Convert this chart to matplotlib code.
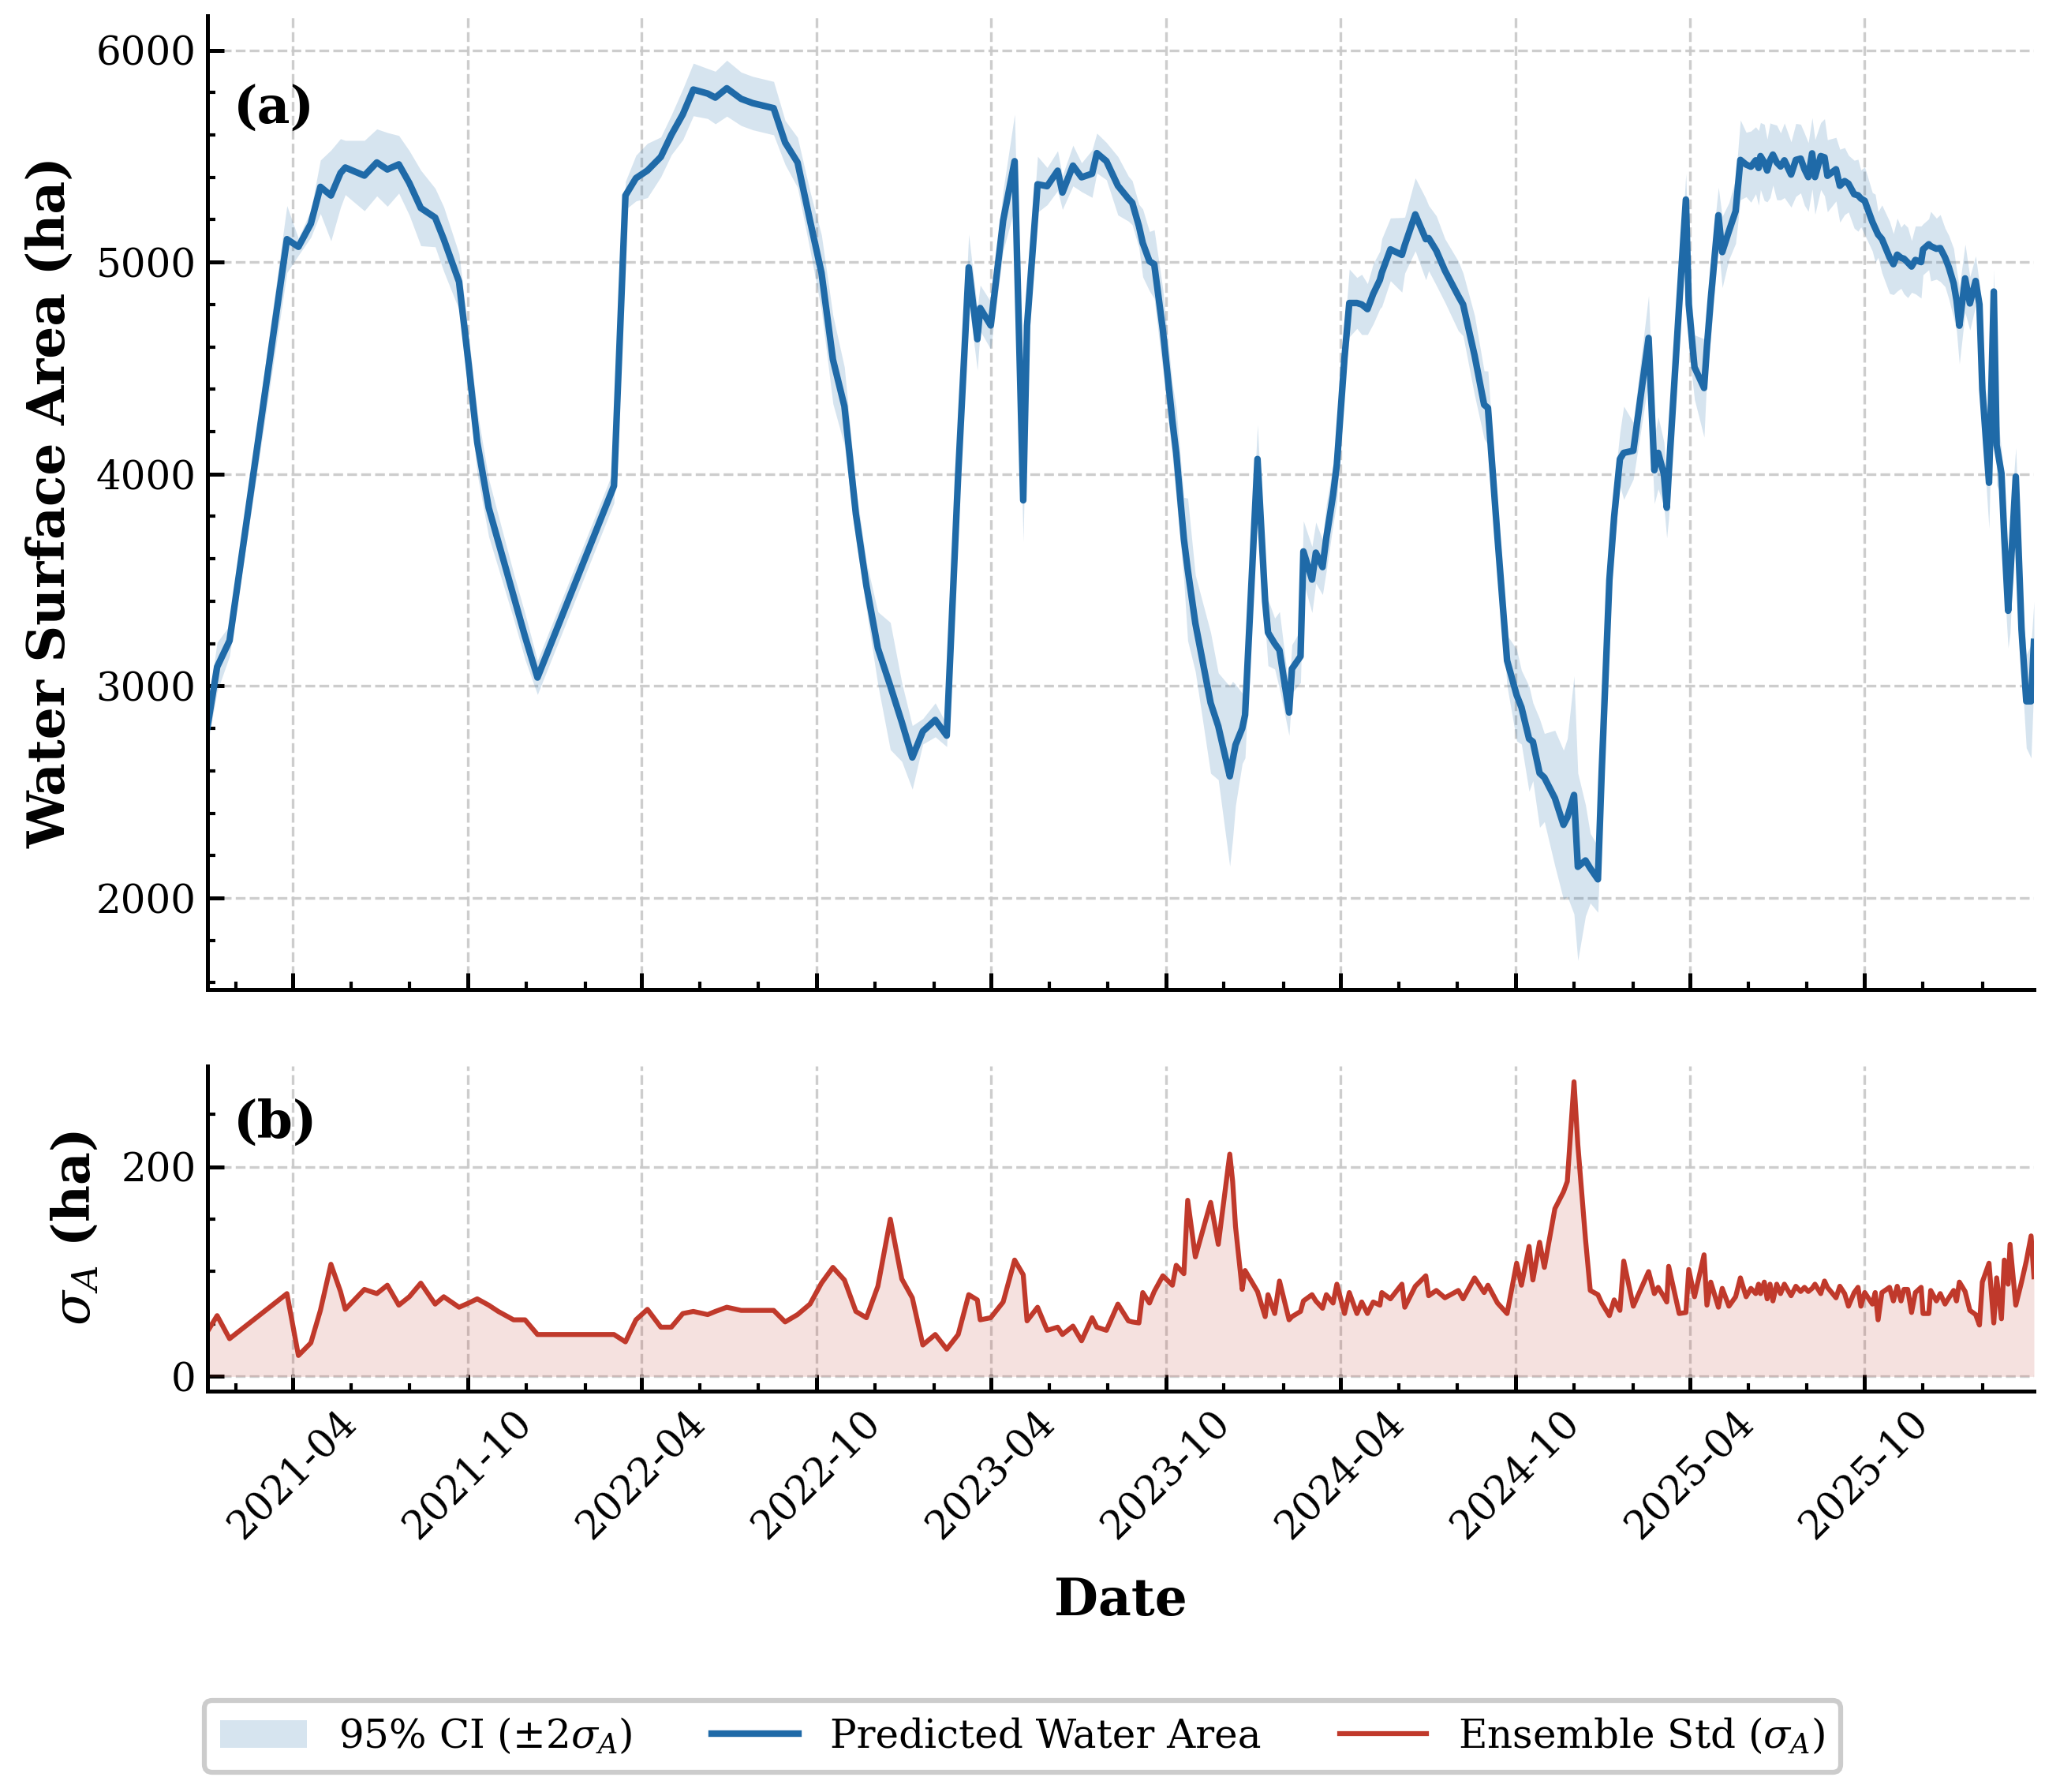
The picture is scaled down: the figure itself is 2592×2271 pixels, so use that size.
import numpy as np
import matplotlib
matplotlib.use('Agg')
import matplotlib.pyplot as plt
import matplotlib.dates as mdates
from matplotlib.ticker import AutoMinorLocator, MultipleLocator
from matplotlib.patches import Patch
from matplotlib.lines import Line2D

plt.rcParams['font.family'] = ['DejaVu Serif']
plt.rcParams['mathtext.fontset'] = 'dejavuserif'

# ---------------- data ----------------
dates = [
    # 2021
    '2021-01-02', '2021-01-12', '2021-01-25', '2021-03-26', '2021-04-07', '2021-04-20', '2021-04-30',
    '2021-05-11', '2021-05-21', '2021-05-26', '2021-06-15', '2021-06-28', '2021-07-09', '2021-07-21',
    '2021-08-01', '2021-08-13', '2021-08-28', '2021-09-06', '2021-09-22', '2021-10-02', '2021-10-11',
    '2021-10-23', '2021-11-02', '2021-11-18', '2021-11-30', '2021-12-13',
    # 2022
    '2022-03-03', '2022-03-15', '2022-03-26', '2022-04-07', '2022-04-21', '2022-05-02', '2022-05-14',
    '2022-05-25', '2022-06-09', '2022-06-17', '2022-06-29', '2022-07-14', '2022-07-26', '2022-08-17',
    '2022-08-29', '2022-09-11', '2022-09-24', '2022-10-06', '2022-10-18', '2022-10-30', '2022-11-11',
    '2022-11-22', '2022-12-04', '2022-12-17', '2022-12-29',
    # 2023
    '2023-01-09', '2023-01-20', '2023-02-02', '2023-02-14', '2023-02-26', '2023-03-09', '2023-03-18',
    '2023-03-21', '2023-04-01', '2023-04-14', '2023-04-26', '2023-05-05', '2023-05-09', '2023-05-20',
    '2023-05-30', '2023-06-10', '2023-06-15', '2023-06-26', '2023-07-05', '2023-07-16', '2023-07-21',
    '2023-07-31', '2023-08-12', '2023-08-23', '2023-08-27', '2023-09-03', '2023-09-07', '2023-09-14',
    '2023-09-19', '2023-09-28', '2023-10-08', '2023-10-12', '2023-10-20', '2023-10-24', '2023-11-01',
    '2023-11-17', '2023-11-25', '2023-12-07', '2023-12-10', '2023-12-13', '2023-12-20', '2023-12-23',
    # 2024
    '2024-01-05', '2024-01-13', '2024-01-16', '2024-01-23', '2024-01-28', '2024-02-07', '2024-02-10',
    '2024-02-19', '2024-02-22', '2024-03-02', '2024-03-06', '2024-03-13', '2024-03-17', '2024-03-24',
    '2024-03-28', '2024-04-05', '2024-04-10', '2024-04-18', '2024-04-23', '2024-04-29', '2024-05-05',
    '2024-05-12', '2024-05-14', '2024-05-23', '2024-06-04', '2024-06-07', '2024-06-18', '2024-06-29',
    '2024-07-02', '2024-07-10', '2024-07-19', '2024-08-02', '2024-08-07', '2024-08-19', '2024-08-29',
    '2024-09-02', '2024-09-12', '2024-09-22', '2024-10-02', '2024-10-07', '2024-10-15', '2024-10-19',
    '2024-10-26', '2024-10-31', '2024-11-11', '2024-11-20', '2024-11-24', '2024-12-01', '2024-12-05',
    '2024-12-13', '2024-12-18', '2024-12-26', '2024-12-30',
    # 2025
    '2025-01-07', '2025-01-12', '2025-01-18', '2025-01-22', '2025-02-01', '2025-02-17', '2025-02-23',
    '2025-02-27', '2025-03-05', '2025-03-08', '2025-03-10', '2025-03-21', '2025-03-28', '2025-03-31',
    '2025-04-06', '2025-04-16', '2025-04-19', '2025-04-23', '2025-05-01', '2025-05-05', '2025-05-12',
    '2025-05-19', '2025-05-24', '2025-05-30', '2025-06-04', '2025-06-09', '2025-06-12', '2025-06-14',
    '2025-06-18', '2025-06-21', '2025-06-24', '2025-06-27', '2025-07-01', '2025-07-05', '2025-07-09',
    '2025-07-16', '2025-07-21', '2025-07-26', '2025-07-30', '2025-08-03', '2025-08-07', '2025-08-10',
    '2025-08-16', '2025-08-20', '2025-08-23', '2025-09-01', '2025-09-05', '2025-09-10', '2025-09-14',
    '2025-09-20', '2025-09-24', '2025-09-27', '2025-10-01', '2025-10-09', '2025-10-12', '2025-10-15',
    '2025-10-19', '2025-10-27', '2025-10-31', '2025-11-04', '2025-11-08', '2025-11-11', '2025-11-15',
    '2025-11-19', '2025-11-23', '2025-11-29', '2025-12-01', '2025-12-07', '2025-12-09', '2025-12-15',
    '2025-12-19', '2025-12-24', '2025-12-28',
    # 2026
    '2026-01-02', '2026-01-05', '2026-01-08', '2026-01-14', '2026-01-19', '2026-01-25', '2026-01-29',
    '2026-02-01', '2026-02-08', '2026-02-13', '2026-02-16', '2026-02-21', '2026-02-24', '2026-02-28',
    '2026-03-02', '2026-03-08', '2026-03-14', '2026-03-19', '2026-03-24', '2026-03-27',
]

water_area = [
    # 2021
    2810, 3090, 3214, 5108, 5072, 5181, 5355,
    5314, 5420, 5446, 5408, 5470, 5437, 5461,
    5373, 5255, 5210, 5108, 4907, 4518, 4150,
    3841, 3681, 3425, 3233, 3040,
    # 2022
    3944, 5314, 5396, 5432, 5496, 5600, 5697,
    5814, 5795, 5776, 5820, 5770, 5750, 5726,
    5564, 5470, 5196, 4950, 4540, 4320, 3811,
    3473, 3178, 3000, 2830,
    # 2023
    2663, 2786, 2840, 2766, 4000, 4975, 4636,
    4783, 4701, 5196, 5476, 3876, 4700, 5367,
    5358, 5431, 5328, 5455, 5400, 5417, 5514,
    5476, 5360, 5299, 5280, 5170, 5090, 5004,
    4990, 4680, 4250, 4100, 3694, 3550, 3296,
    2920, 2810, 2574, 2650, 2722, 2800, 2863,
    # 2024
    4071, 3400, 3252, 3200, 3169, 2875, 3081,
    3140, 3635, 3502, 3629, 3561, 3700, 3900,
    4047, 4550, 4807, 4807, 4800, 4778, 4850,
    4916, 4950, 5060, 5034, 5080, 5225, 5108,
    5113, 5054, 4960, 4840, 4800, 4560, 4327,
    4312, 3700, 3120, 2957, 2900, 2751, 2737,
    2589, 2568, 2471, 2345, 2380, 2486, 2147,
    2177, 2140, 2088, 2600,
    # 2025
    3500, 3800, 4071, 4100, 4110, 4642, 4018,
    4100, 4000, 3841, 4000, 4800, 5295, 4800,
    4504, 4406, 4600, 4824, 5221, 5047, 5146,
    5240, 5482, 5460, 5450, 5480, 5444, 5500,
    5470, 5432, 5480, 5507, 5470, 5451, 5480,
    5413, 5482, 5488, 5438, 5401, 5513, 5401,
    5500, 5494, 5407, 5438, 5360, 5382, 5370,
    5320, 5315, 5300, 5289, 5190, 5160, 5130,
    5109, 5022, 4990, 5035, 5020, 5016, 4998,
    4979, 5010, 5000, 5060, 5084, 5075, 5063,
    5066, 5022, 4975,
    # 2026
    4900, 4820, 4700, 4923, 4805, 4911, 4800,
    4400, 3959, 4861, 4136, 4003, 3700, 3355,
    3500, 3988, 3267, 2928, 2928, 3208,
]

ensemble_std = [
    # 2021
    43, 58, 36, 79, 20, 32, 63,
    107, 81, 64, 83, 79, 87, 68,
    76, 89, 69, 76, 66, 70, 74,
    68, 62, 54, 54, 40,
    # 2022
    40, 33, 54, 64, 47, 47, 60,
    62, 59, 62, 66, 63, 63, 63,
    52, 59, 69, 89, 104, 92, 62,
    56, 86, 150, 93,
    # 2023
    75, 30, 40, 26, 40, 78, 73,
    54, 56, 71, 111, 97, 53, 66,
    44, 47, 40, 48, 34, 56, 47,
    44, 69, 53, 52, 51, 80, 70,
    81, 96, 87, 106, 98, 168, 114,
    166, 126, 212, 186, 143, 83, 101,
    # 2024
    81, 57, 78, 60, 91, 54, 57,
    62, 72, 78, 72, 65, 78, 70,
    88, 60, 80, 60, 71, 60, 71,
    68, 80, 74, 88, 66, 86, 96,
    77, 82, 75, 82, 74, 94, 80,
    87, 70, 60, 108, 87, 124, 92,
    128, 104, 160, 176, 186, 281, 221,
    131, 82, 78, 70,
    # 2025
    58, 73, 63, 110, 67, 100, 79,
    85, 76, 71, 105, 60, 61, 102,
    76, 116, 68, 90, 66, 84, 67,
    76, 94, 76, 84, 79, 88, 79,
    90, 74, 88, 72, 88, 79, 88,
    77, 86, 81, 85, 81, 84, 88,
    79, 91, 85, 75, 86, 79, 67,
    80, 85, 67, 80, 69, 80, 54,
    80, 85, 72, 86, 72, 83, 83,
    61, 80, 85, 60, 60, 82, 72,
    79, 69, 75,
    # 2026
    82, 72, 90, 81, 63, 59, 49,
    90, 108, 51, 94, 55, 111, 88,
    126, 68, 90, 110, 134, 95,
]

assert len(dates) == len(water_area) == len(ensemble_std)

d = np.array(dates, dtype='datetime64[D]')
area = np.array(water_area, dtype=float)
sig = np.array(ensemble_std, dtype=float)

BLUE = '#1f6aa8'
RED = '#c0392b'

# ---------------- figure ----------------
fig = plt.figure(figsize=(8.64, 7.57), dpi=300)
ax1 = fig.add_axes([0.1015, 0.4478, 0.8931, 0.5434])
ax2 = fig.add_axes([0.1015, 0.2237, 0.8931, 0.1814], sharex=ax1)

ax1.fill_between(d, area - 2 * sig, area + 2 * sig, color=BLUE, alpha=0.18, lw=0)
ax1.plot(d, area, color=BLUE, lw=2.0)

ax2.fill_between(d, 0, sig, color=RED, alpha=0.15, lw=0)
ax2.plot(d, sig, color=RED, lw=1.5)

for ax in (ax1, ax2):
    ax.spines['top'].set_visible(False)
    ax.spines['right'].set_visible(False)
    ax.spines['left'].set_linewidth(1.2)
    ax.spines['bottom'].set_linewidth(1.2)
    ax.grid(True, which='major', linestyle='--', color='#c8c8c8', lw=0.8, alpha=0.9)
    ax.set_axisbelow(True)
    ax.tick_params(which='major', direction='in', length=5, width=1.2, labelsize=12)
    ax.tick_params(which='minor', direction='in', length=2.5, width=1.0)

ax1.set_xlim(d[0], d[-1])
ax1.xaxis.set_major_locator(mdates.MonthLocator(bymonth=[4, 10]))
ax1.xaxis.set_minor_locator(mdates.MonthLocator(bymonth=[2, 4, 6, 8, 10, 12]))
ax1.xaxis.set_major_formatter(mdates.DateFormatter('%Y-%m'))
ax1.tick_params(labelbottom=False)

ax1.set_ylim(1568, 6162)
ax1.yaxis.set_major_locator(MultipleLocator(1000))
ax1.yaxis.set_minor_locator(AutoMinorLocator())

ax2.set_ylim(-14, 296)
ax2.yaxis.set_major_locator(MultipleLocator(200))
ax2.yaxis.set_minor_locator(MultipleLocator(50))
ax2.tick_params(axis='x', which='major', rotation=45)

ax1.set_ylabel('Water Surface Area (ha)', fontsize=15.5, fontweight='bold', labelpad=6)
ax2.set_ylabel(r'$\sigma_A$ (ha)', fontsize=15.5, fontweight='bold', labelpad=6)
ax2.set_xlabel('Date', fontsize=15.5, fontweight='bold', labelpad=9)

ax1.text(0.014, 0.93, '(a)', transform=ax1.transAxes, fontsize=15.5, fontweight='bold',
         ha='left', va='top')
ax2.text(0.014, 0.90, '(b)', transform=ax2.transAxes, fontsize=15.5, fontweight='bold',
         ha='left', va='top')

handles = [
    Patch(facecolor=BLUE, alpha=0.18, edgecolor='none'),
    Line2D([0], [0], color=BLUE, lw=2.0),
    Line2D([0], [0], color=RED, lw=1.5),
]
labels = [r'95% CI ($\pm 2\sigma_A$)', 'Predicted Water Area', r'Ensemble Std ($\sigma_A$)']
leg = fig.legend(handles, labels, loc='center', bbox_to_anchor=(0.5, 0.031), ncol=3,
                 fontsize=12, frameon=True, fancybox=True, framealpha=1.0,
                 edgecolor='#cccccc', columnspacing=2.0, handlelength=2.2)
leg.get_frame().set_linewidth(1.5)

fig.savefig('out.png', dpi=300)
